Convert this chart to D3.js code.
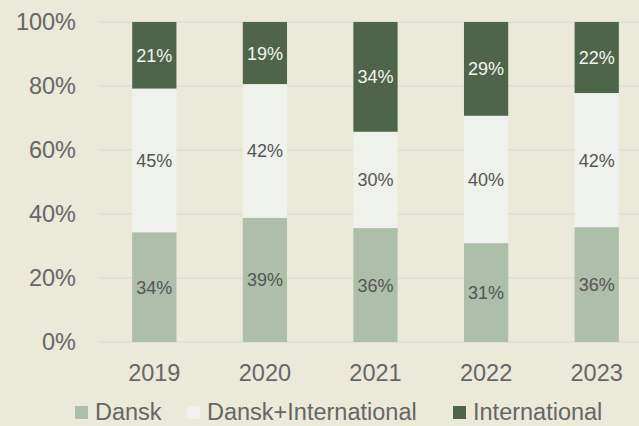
<!DOCTYPE html>
<html>
<head>
<meta charset="utf-8">
<script src="https://cdn.jsdelivr.net/npm/d3@7"></script>
<style>
  html, body { margin: 0; padding: 0; background: #ebe9d8; }
  svg { display: block; font-family: "Liberation Sans", Arial, sans-serif; }
</style>
</head>
<body>
<div id="chart"></div>
<script>
// data (share of each year, %)
var years = ["2019", "2020", "2021", "2022", "2023"];
var seriesNames = ["Dansk", "Dansk+International", "International"];
var dansk = [34.3, 38.8, 35.6, 30.9, 35.9];
var danskIntl = [44.9, 41.8, 30.1, 39.8, 41.9];
var intl = [20.8, 19.4, 34.3, 29.3, 22.2];
var yTicks = [0, 20, 40, 60, 80, 100];

var colours = ["#adbfa8", "#eff1ec", "#4e654a"];
var labelColours = ["#555555", "#555555", "#f4f4f0"];

var W = 639, H = 426;
var margin = {top: 22, right: -13, bottom: 84, left: 99};
var width = W - margin.left - margin.right,
    height = H - margin.top - margin.bottom;

var svg = d3.select("#chart").append("svg")
    .attr("width", W)
    .attr("height", H);

svg.append("rect").attr("width", W).attr("height", H).attr("fill", "#ebe9d8");

var g = svg.append("g")
    .attr("transform", "translate(" + margin.left + "," + margin.top + ")");

var x = d3.scaleBand().domain(years).range([0, width]).paddingInner(0.6).paddingOuter(0.3);
var y = d3.scaleLinear().domain([0, 100]).range([height, 0]);

// table for the stack
var rows = years.map(function(yr, i) {
  return {year: yr, "Dansk": dansk[i], "Dansk+International": danskIntl[i], "International": intl[i]};
});
var stacked = d3.stack().keys(seriesNames)(rows);

// gridlines
g.append("g").attr("class", "grid")
  .selectAll("line")
  .data(yTicks)
  .enter().append("line")
    .attr("x1", 0)
    .attr("x2", width)
    .attr("y1", function(d) { return y(d); })
    .attr("y2", function(d) { return y(d); })
    .attr("stroke", "#dcdcd8")
    .attr("stroke-width", 1.6);

// y tick labels
g.append("g").attr("class", "y-labels")
  .selectAll("text")
  .data(yTicks)
  .enter().append("text")
    .attr("x", -23)
    .attr("y", function(d) { return y(d); })
    .attr("dy", "0.36em")
    .attr("text-anchor", "end")
    .attr("fill", "#666666")
    .style("font-size", "23.5px")
    .text(function(d) { return d + "%"; });

// bars
var layers = g.selectAll(".layer")
  .data(stacked)
  .enter().append("g")
    .attr("class", "layer")
    .attr("fill", function(d, i) { return colours[i]; });

layers.selectAll("rect")
  .data(function(d) { return d; })
  .enter().append("rect")
    .attr("x", function(d) { return x(d.data.year); })
    .attr("y", function(d) { return y(d[1]); })
    .attr("width", x.bandwidth())
    .attr("height", function(d) { return y(d[0]) - y(d[1]); });

// value labels
stacked.forEach(function(layer, li) {
  g.append("g").selectAll("text")
    .data(layer)
    .enter().append("text")
      .attr("x", function(d) { return x(d.data.year) + x.bandwidth() / 2; })
      .attr("y", function(d) { return (y(d[0]) + y(d[1])) / 2; })
      .attr("dy", "0.36em")
      .attr("text-anchor", "middle")
      .attr("fill", labelColours[li])
      .style("font-size", "18px")
      .text(function(d) { return Math.round(d[1] - d[0]) + "%"; });
});

// year labels
g.append("g").selectAll("text")
  .data(years)
  .enter().append("text")
    .attr("x", function(d) { return x(d) + x.bandwidth() / 2; })
    .attr("y", height + 31)
    .attr("dy", "0.36em")
    .attr("text-anchor", "middle")
    .attr("fill", "#666666")
    .style("font-size", "23.5px")
    .text(function(d) { return d; });

// legend (nudged up a little so the text is not clipped)
var legendX = [75, 187, 453];
var legend = svg.append("g").attr("class", "legend");
seriesNames.forEach(function(name, i) {
  legend.append("rect")
    .attr("x", legendX[i])
    .attr("y", 406)
    .attr("width", 13)
    .attr("height", 13)
    .attr("fill", colours[i]);
  legend.append("text")
    .attr("x", legendX[i] + 20)
    .attr("y", 420)
    .attr("fill", "#666666")
    .style("font-size", "23.5px")
    .text(name);
});
</script>
</body>
</html>
